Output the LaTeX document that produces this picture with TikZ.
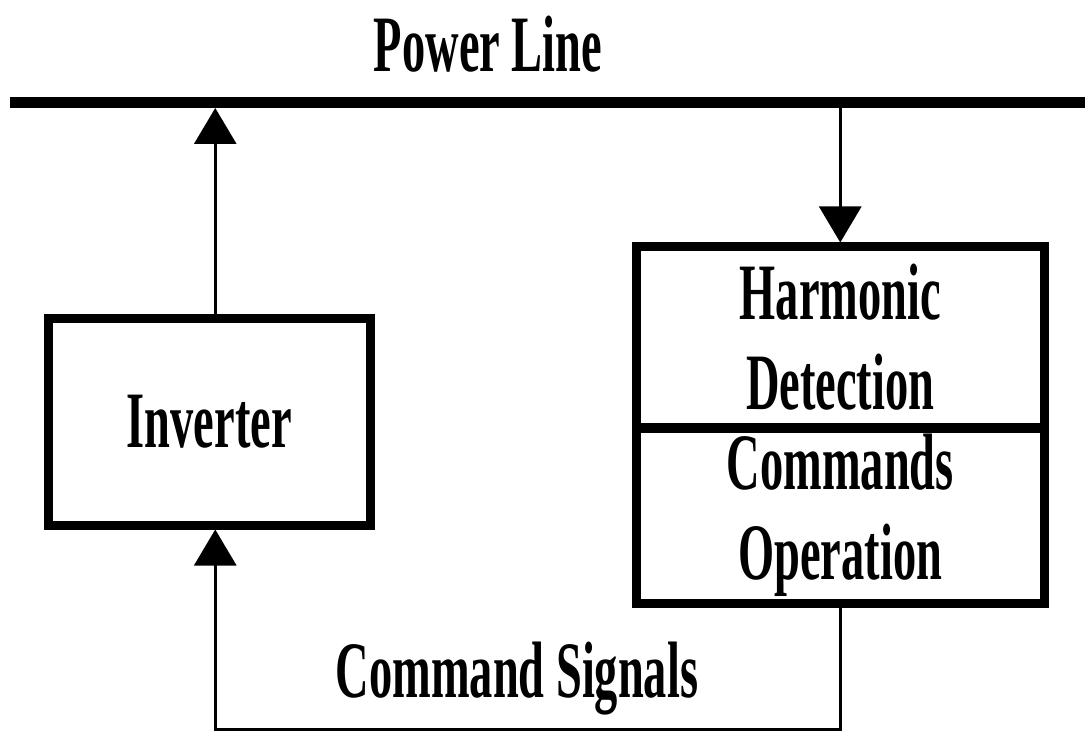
\documentclass[tikz,border=0pt]{standalone}
\usepackage{fontspec}
\setmainfont{Liberation Serif}[FakeStretch=0.58]
\usetikzlibrary{positioning,arrows.meta}

\tikzset{
  blk/.style={draw, line width=4.5pt, inner sep=0pt, align=center},
  sig/.style={line width=1.5pt, -{Triangle[width=21pt,length=18pt]}},
  bus/.style={line width=5.5pt},
  lbl/.style={anchor=base, inner sep=0pt}
}

\begin{document}
\begin{tikzpicture}[x=0.5pt, y=-0.5pt, font=\fontsize{40}{45}\selectfont\bfseries]
    \useasboundingbox (0,0) rectangle (1085,731);
    \coordinate (plL) at (10,102.5);
    \coordinate (plR) at (1085,102.5);
    \coordinate (bot) at (0,729);
    \draw[bus] (plL) -- (plR);
    \node[lbl] (pltxt) at (488,72) {Power Line};
    \node[blk, minimum width=161pt, minimum height=103pt] (inverter) at (209.25,422) {Inverter};
    \node[blk, minimum width=204.25pt, minimum height=90.5pt] (harmonic) at (840.25,337.5) {Harmonic\\Detection};
    \node[blk, minimum width=204.25pt, minimum height=87.5pt] (commands) at (840.25,515.5) {Commands\\Operation};
    \coordinate (invup) at ([xshift=3pt]inverter.north);
    \coordinate (invdn) at ([xshift=3pt]inverter.south);
    \draw[sig, shorten >=2.75pt] (invup) -- (invup |- plL);
    \draw[sig] (harmonic.north |- plR) -- (harmonic.north);
    \draw[sig] (commands.south) -- (commands.south |- bot) -| (invdn);
    \node[lbl] (cmdsig) at (517,697) {Command Signals};
\end{tikzpicture}
\end{document}
